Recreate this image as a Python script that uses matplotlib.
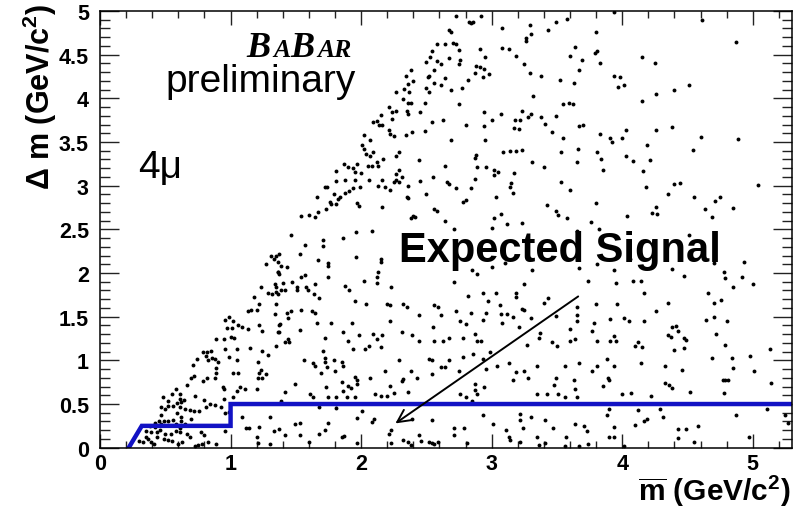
import numpy as np
import matplotlib
import matplotlib.pyplot as plt
from matplotlib.ticker import MultipleLocator, FormatStrFormatter

matplotlib.rcParams['font.family'] = 'Liberation Sans'
matplotlib.rcParams['mathtext.fontset'] = 'custom'
matplotlib.rcParams['mathtext.rm'] = 'Liberation Sans:bold'
matplotlib.rcParams['mathtext.it'] = 'Liberation Sans:bold'
matplotlib.rcParams['mathtext.bf'] = 'Liberation Sans:bold'

# 4mu candidates as (mbar, delta m) in GeV/c^2, split by region of the plane
low_m = [
    (1.37, 2.22), (1.31, 2.20), (1.33, 2.16), (1.27, 2.10), (1.36, 2.01), (1.23, 1.84), (1.35, 1.84),
    (1.29, 1.77), (1.32, 1.76), (1.36, 1.76), (1.18, 1.72), (1.22, 1.65), (1.13, 1.56), (1.16, 1.58),
    (1.20, 1.58), (1.34, 1.53), (0.99, 1.50), (0.96, 1.46), (1.02, 1.45), (0.97, 1.37), (1.01, 1.37),
    (1.06, 1.40), (1.09, 1.38), (1.13, 1.36), (1.22, 1.40), (1.24, 1.34), (1.36, 1.32), (0.89, 1.24),
    (0.95, 1.24), (1.00, 1.27), (1.03, 1.26), (0.96, 1.13), (1.05, 1.13), (1.15, 1.14), (1.24, 1.11),
    (1.35, 1.16), (0.79, 1.10), (0.82, 1.09), (0.85, 1.11), (0.81, 1.05), (0.86, 1.03), (0.88, 1.01),
    (0.99, 1.04), (0.74, 1.01), (0.83, 1.00), (0.90, 0.98), (1.05, 1.00), (1.29, 1.06), (1.21, 0.98),
    (0.71, 0.95), (0.89, 0.91), (0.89, 0.86), (1.02, 0.85), (1.06, 0.85), (1.23, 0.89), (1.22, 0.85),
    (1.27, 0.84), (1.21, 0.80), (1.24, 0.80), (0.72, 0.82), (0.70, 0.80), (0.82, 0.80), (0.79, 0.76),
    (0.88, 0.80), (0.67, 0.72), (0.94, 0.70), (0.95, 0.67), (1.07, 0.70), (1.05, 0.65), (1.11, 0.67),
    (1.20, 0.67), (0.58, 0.67), (0.55, 0.61), (0.61, 0.61), (0.73, 0.59), (0.80, 0.55), (0.95, 0.56),
    (1.02, 0.58), (0.48, 0.58), (0.52, 0.54), (0.61, 0.56), (0.64, 0.55), (0.62, 0.52), (0.59, 0.51),
    (0.56, 0.48), (0.52, 0.48), (0.61, 0.47), (0.65, 0.44), (0.47, 0.47), (0.50, 0.44), (0.84, 0.50),
    (0.88, 0.49), (0.81, 0.47), (0.93, 0.47), (0.59, 0.40), (0.69, 0.43), (0.72, 0.42), (0.76, 0.42),
    (0.96, 0.40), (0.99, 0.41), (0.62, 0.35), (0.47, 0.37), (0.45, 0.31), (0.49, 0.30), (0.52, 0.31),
    (0.56, 0.32), (0.42, 0.28), (0.58, 0.27), (0.62, 0.30), (0.65, 0.27), (0.70, 0.33), (0.38, 0.25),
    (0.42, 0.24), (0.47, 0.27), (0.61, 0.23), (0.35, 0.19), (0.39, 0.18), (0.44, 0.18), (0.46, 0.20),
    (0.50, 0.16), (0.54, 0.16), (0.58, 0.19), (0.61, 0.18), (0.67, 0.16), (0.69, 0.12), (0.77, 0.18),
    (0.80, 0.15), (0.35, 0.12), (0.37, 0.10), (0.39, 0.07), (0.41, 0.04), (0.44, 0.12), (0.49, 0.10),
    (0.52, 0.09), (0.55, 0.08), (0.30, 0.08), (0.33, 0.06), (0.60, 0.04), (0.63, 0.06), (0.73, 0.02),
    (0.75, 0.03), (0.78, 0.04), (0.83, 0.06), (0.89, 0.04), (1.09, 0.35), (1.12, 0.22), (1.14, 0.22),
    (1.22, 0.24), (1.20, 0.12), (1.21, 0.05), (1.30, 0.35), (1.30, 0.04), (1.33, 0.19), (0.96, 0.19),
]

mid_m = [
    (1.46, 2.43), (1.57, 2.32), (1.71, 2.38), (1.71, 2.31), (1.86, 2.40), (1.96, 2.47), (2.08, 2.48),
    (1.53, 2.22), (1.35, 2.20), (1.36, 2.13), (1.39, 2.08), (1.43, 2.07), (1.67, 2.15), (1.75, 2.12),
    (1.75, 2.08), (1.96, 2.18), (2.15, 2.16), (2.15, 2.13), (1.36, 2.01), (1.37, 1.99), (1.54, 1.95),
    (1.57, 1.98), (1.75, 1.96), (2.12, 1.95), (2.13, 2.01), (2.02, 1.91), (1.34, 1.87), (1.40, 1.89),
    (1.47, 1.90), (1.51, 1.84), (1.58, 1.84), (1.65, 1.87), (1.35, 1.78), (1.39, 1.80), (1.42, 1.80),
    (1.51, 1.80), (1.59, 1.80), (1.64, 1.76), (1.68, 1.71), (1.88, 1.85), (1.91, 1.80), (1.95, 1.68),
    (2.04, 1.64), (2.12, 1.89), (2.23, 1.84), (2.20, 1.65), (2.22, 1.63), (2.32, 1.65), (2.35, 1.61),
    (2.44, 1.52), (2.56, 1.63), (2.59, 1.61), (2.61, 1.52), (1.35, 1.64), (1.43, 1.54), (1.46, 1.56),
    (1.54, 1.58), (1.62, 1.56), (1.65, 1.54), (1.44, 1.48), (1.37, 1.40), (1.38, 1.42), (1.37, 1.32),
    (1.53, 1.35), (1.66, 1.43), (1.77, 1.43), (1.93, 1.43), (1.42, 1.21), (1.45, 1.21), (1.44, 1.24),
    (1.72, 1.26), (1.86, 1.33), (1.90, 1.22), (1.94, 1.13), (1.98, 1.29), (2.03, 1.13), (2.06, 1.16),
    (2.09, 1.30), (2.12, 1.24), (2.16, 1.29), (2.15, 1.15), (2.22, 1.45), (2.31, 1.33), (2.39, 1.29),
    (2.44, 1.22), (2.55, 1.38), (2.56, 1.22), (2.63, 1.22), (2.67, 1.26), (1.71, 1.11), (1.72, 1.03),
    (1.72, 0.98), (1.56, 1.00), (1.63, 0.97), (1.65, 0.93), (1.69, 0.85), (1.74, 0.92), (1.79, 1.00),
    (1.80, 0.88), (1.85, 0.98), (1.86, 0.93), (1.95, 0.81), (1.97, 0.77), (1.97, 0.73), (1.90, 0.71),
    (1.92, 0.68), (1.85, 0.75), (2.07, 0.80), (2.18, 0.88), (2.29, 1.00), (2.31, 0.76), (2.32, 0.79),
    (2.38, 0.88), (2.43, 0.80), (2.52, 1.02), (2.54, 1.00), (2.54, 0.84), (2.61, 0.92), (2.64, 0.92),
    (2.67, 1.00), (1.49, 0.73), (1.73, 0.70), (1.86, 0.65), (1.42, 0.64), (1.61, 0.62), (1.63, 0.58),
    (1.75, 0.58), (1.81, 0.58), (1.89, 0.58), (1.95, 0.58), (2.11, 0.61), (2.15, 0.59), (2.20, 0.59),
    (2.25, 0.63), (2.22, 0.71), (2.36, 0.64), (1.39, 0.54), (1.68, 0.47), (1.81, 0.45), (1.81, 0.50),
    (1.97, 0.34), (2.01, 0.42), (2.08, 0.29), (2.10, 0.33), (2.39, 0.33), (2.54, 0.32), (1.49, 0.27),
    (1.53, 0.28), (1.53, 0.15), (1.68, 0.16), (1.72, 0.20), (1.75, 0.28), (1.42, 0.15), (1.85, 0.12),
    (1.87, 0.13), (1.97, 0.05), (2.21, 0.16), (2.23, 0.20), (2.23, 0.05), (2.32, 0.09), (2.36, 0.06),
    (2.38, 0.03), (2.44, 0.14), (2.46, 0.08), (2.52, 0.06), (2.54, 0.05), (2.56, 0.04), (2.59, 0.07),
    (1.37, 0.21), (1.60, 0.06),
]

high_m = [
    (3.25, 1.87), (2.82, 1.74), (2.93, 1.77), (3.03, 1.77), (3.19, 1.77), (3.19, 1.72), (3.43, 1.71),
    (3.40, 1.66), (2.97, 1.68), (3.06, 1.63), (3.23, 1.59), (3.25, 1.58), (3.80, 1.64), (3.96, 1.64),
    (2.73, 1.56), (2.84, 1.54), (2.96, 1.54), (3.07, 1.53), (3.12, 1.53), (3.16, 1.50), (3.08, 1.43),
    (2.80, 1.42), (2.76, 1.45), (2.93, 1.46), (3.30, 1.48), (3.49, 1.51), (3.65, 1.61), (3.65, 1.52),
    (3.65, 1.45), (3.78, 1.43), (3.91, 1.47), (4.01, 1.48), (2.87, 1.30), (2.89, 1.22), (2.92, 1.22),
    (2.78, 1.26), (3.21, 1.38), (3.37, 1.31), (3.36, 1.26), (3.46, 1.21), (3.50, 1.17), (3.27, 1.18),
    (3.60, 1.36), (3.60, 1.22), (3.64, 1.24), (3.77, 1.34), (3.81, 1.22), (3.91, 1.22), (3.95, 1.22),
    (3.94, 1.28), (2.78, 1.04), (2.86, 1.07), (2.93, 1.01), (2.99, 1.09), (2.75, 0.88), (2.96, 0.90),
    (3.04, 0.93), (3.13, 0.97), (3.19, 0.87), (3.25, 0.88), (3.16, 0.77), (3.28, 0.80), (3.35, 0.93),
    (3.56, 0.93), (3.67, 0.97), (3.77, 0.88), (3.81, 0.94), (3.88, 1.01), (3.49, 0.80), (3.48, 0.72),
    (3.63, 0.77), (3.64, 0.67), (3.85, 0.71), (3.89, 0.80), (3.90, 0.77), (3.94, 0.93), (2.87, 0.73),
    (2.94, 0.70), (2.87, 0.66), (2.89, 0.61), (2.76, 0.61), (2.80, 0.58), (2.85, 0.54), (3.35, 0.61),
    (3.42, 0.61), (3.51, 0.62), (3.56, 0.58), (3.65, 0.58), (4.00, 0.61), (2.93, 0.37), (3.22, 0.39),
    (3.30, 0.35), (3.24, 0.23), (3.22, 0.32), (3.41, 0.32), (3.47, 0.23), (3.01, 0.27), (3.11, 0.20),
    (3.64, 0.27), (3.71, 0.25), (3.73, 0.19), (3.88, 0.38), (3.90, 0.44), (3.94, 0.24), (3.94, 0.12),
    (2.71, 0.23), (2.79, 0.22), (2.81, 0.05), (2.71, 0.14), (3.13, 0.12), (3.14, 0.09), (3.22, 0.06),
    (3.35, 0.12), (3.36, 0.03), (3.41, 0.05), (3.57, 0.12), (3.56, 0.02), (3.67, 0.02), (3.74, 0.04),
    (3.90, 0.12), (4.01, 0.02), (2.71, 2.50), (3.00, 2.51), (3.65, 2.48), (3.82, 2.50), (2.85, 2.04),
    (2.89, 1.99), (3.00, 2.07), (3.10, 2.11), (3.31, 2.03), (3.67, 2.06), (3.81, 2.10), (3.94, 2.03),
    (3.95, 1.89), (2.71, 1.90), (3.74, 1.91),
]

far_m = [
    (4.51, 2.43), (4.06, 2.16), (4.14, 1.91), (4.08, 1.91), (4.38, 2.05), (4.47, 1.97), (4.70, 2.11),
    (4.78, 2.01), (4.79, 1.94), (4.93, 2.13), (4.92, 1.96), (5.00, 1.87), (4.85, 1.84), (4.17, 1.77),
    (4.35, 1.66), (4.66, 1.77), (4.70, 1.66), (4.76, 1.69), (4.26, 1.57), (4.05, 1.45), (4.17, 1.45),
    (4.64, 1.46), (4.70, 1.50), (4.80, 1.45), (4.38, 1.38), (4.41, 1.39), (4.43, 1.34), (4.35, 1.29),
    (4.37, 1.27), (4.47, 1.26), (4.49, 1.23), (4.40, 1.12), (4.47, 1.14), (4.72, 1.30), (4.79, 1.18),
    (4.10, 1.16), (4.12, 1.21), (4.15, 1.15), (4.14, 0.97), (4.33, 0.93), (4.46, 0.89), (4.69, 1.03),
    (4.84, 1.03), (4.85, 0.91), (4.98, 1.05), (5.01, 0.88), (5.13, 1.13), (4.33, 0.74), (4.36, 0.72),
    (4.38, 0.68), (4.52, 0.64), (4.77, 0.77), (4.79, 0.78), (4.81, 0.77), (4.78, 0.63), (5.14, 0.74),
    (4.07, 0.63), (4.22, 0.59), (4.12, 0.43), (4.29, 0.44), (4.31, 0.35), (4.10, 0.26), (4.17, 0.31),
    (4.19, 0.33), (4.43, 0.21), (4.49, 0.21), (4.58, 0.25), (4.43, 0.11), (4.55, 0.06), (4.87, 0.37),
    (4.97, 0.12), (5.11, 0.44), (5.25, 0.37), (5.27, 0.28),
]

edge_upper = [
    (2.38, 4.32), (2.34, 4.25), (2.40, 4.20), (2.36, 4.16), (2.33, 4.11), (2.27, 4.07), (2.37, 4.07),
    (2.32, 3.99), (2.36, 3.95), (2.38, 3.95), (2.21, 3.90), (2.24, 3.84), (2.27, 3.85), (2.35, 3.86),
    (2.36, 3.82), (2.15, 3.81), (2.12, 3.74), (2.09, 3.73), (2.14, 3.70), (2.16, 3.69), (2.24, 3.76),
    (2.21, 3.64), (2.22, 3.59), (2.25, 3.57), (2.34, 3.58), (2.39, 3.61), (2.02, 3.58), (2.01, 3.46),
    (2.07, 3.52), (2.02, 3.42), (2.04, 3.36), (2.09, 3.39), (2.07, 3.34), (2.17, 3.31), (2.12, 3.27),
    (2.29, 3.39), (2.27, 3.34), (1.87, 3.25), (1.90, 3.21), (1.94, 3.20), (1.95, 3.16), (1.97, 3.25),
    (1.81, 3.17), (2.00, 3.15), (2.05, 3.22), (2.08, 3.23), (2.13, 3.23), (2.29, 3.18), (2.27, 3.13),
    (1.81, 3.05), (1.88, 3.06), (1.95, 3.06), (2.06, 3.06), (1.99, 2.99), (1.94, 2.97), (1.91, 2.94),
    (2.13, 3.00), (2.18, 2.99), (2.22, 2.95), (2.16, 3.06), (2.27, 3.07), (2.25, 3.04), (2.29, 3.04),
    (2.31, 3.10), (2.36, 3.00), (1.72, 2.99), (1.74, 2.99), (1.79, 2.90), (1.82, 2.85), (1.84, 2.87),
    (1.88, 2.92), (1.98, 2.77), (1.97, 2.80), (1.66, 2.87), (1.76, 2.81), (1.77, 2.79), (1.81, 2.79),
    (1.73, 2.73), (1.67, 2.70), (1.65, 2.64), (1.54, 2.65), (1.60, 2.66), (2.16, 2.76), (2.35, 2.87),
    (2.36, 2.86), (2.38, 2.63), (2.40, 2.65),
]

mid_upper = [
    (2.73, 4.94), (2.83, 4.87), (2.84, 4.86), (2.86, 4.87), (2.92, 4.94), (3.08, 4.81), (3.29, 4.84),
    (3.30, 4.74), (3.26, 4.69), (3.26, 4.66), (3.43, 4.78), (3.49, 4.87), (3.58, 4.91), (3.80, 4.76),
    (2.67, 4.78), (2.69, 4.76), (2.58, 4.62), (2.64, 4.62), (2.70, 4.63), (2.73, 4.62), (2.75, 4.55),
    (2.54, 4.54), (2.53, 4.47), (2.50, 4.42), (2.58, 4.43), (2.61, 4.39), (2.67, 4.46), (2.76, 4.44),
    (2.75, 4.39), (2.91, 4.57), (2.95, 4.47), (2.88, 4.37), (2.91, 4.36), (2.94, 4.34), (2.87, 4.29),
    (2.93, 4.24), (2.98, 4.28), (2.82, 4.21), (2.56, 4.32), (2.52, 4.26), (2.51, 4.24), (2.64, 4.23),
    (2.61, 4.15), (2.56, 4.17), (2.50, 4.12), (2.52, 4.07), (2.69, 4.10), (2.77, 4.12), (3.08, 4.58),
    (3.13, 4.56), (3.19, 4.49), (3.25, 4.39), (3.29, 4.29), (3.38, 4.25), (3.52, 4.21), (3.63, 4.18),
    (3.64, 4.59), (3.60, 4.48), (3.69, 4.44), (3.67, 4.32), (3.79, 4.52), (3.81, 4.54), (3.83, 4.40),
    (2.49, 3.95), (2.45, 3.84), (2.54, 3.73), (2.75, 3.94), (2.63, 3.75), (2.49, 3.63), (2.80, 3.69),
    (2.94, 3.84), (3.00, 3.75), (2.94, 3.68), (2.95, 3.52), (2.69, 3.52), (3.07, 3.82), (3.18, 3.75),
    (3.23, 3.85), (3.22, 3.75), (3.17, 3.66), (3.21, 3.65), (3.28, 3.79), (3.30, 3.82), (3.32, 4.03),
    (3.38, 3.79), (3.41, 3.71), (3.46, 3.61), (3.49, 3.80), (3.55, 3.94), (3.59, 3.95), (3.62, 3.94),
    (3.55, 3.55), (3.67, 3.68), (3.70, 3.69), (3.83, 3.59), (2.44, 3.29), (2.45, 3.05), (2.55, 3.10),
    (2.50, 2.90), (2.64, 3.22), (2.66, 3.04), (2.67, 3.02), (2.73, 2.97), (2.87, 3.32), (2.88, 3.35),
    (2.89, 3.21), (2.87, 3.08), (2.84, 2.97), (2.80, 2.84), (2.78, 2.81), (2.96, 3.21), (3.02, 3.18),
    (3.05, 3.16), (3.02, 3.12), (3.03, 2.87), (3.09, 3.38), (3.14, 3.40), (3.19, 3.40), (3.23, 3.41),
    (3.17, 3.15), (3.15, 3.03), (3.14, 2.98), (3.16, 2.92), (3.31, 3.27), (3.40, 3.21), (3.53, 3.38),
    (3.66, 3.42), (3.65, 3.27), (3.81, 3.38), (3.84, 3.31), (3.85, 3.18), (3.53, 3.04), (3.60, 2.95),
    (3.42, 2.78), (3.49, 2.71), (3.51, 2.66), (3.58, 2.63), (3.80, 2.80), (3.76, 2.58), (2.56, 2.73),
    (2.58, 2.71), (2.64, 2.60), (2.41, 2.64), (3.02, 2.63), (3.07, 2.68), (3.12, 2.56), (3.23, 2.57),
]

far_upper = [
    (3.94, 4.99), (4.61, 4.90), (4.87, 4.64), (4.15, 4.47), (4.25, 4.41), (3.94, 4.25), (3.98, 4.24),
    (3.97, 4.13), (4.01, 4.15), (4.26, 4.05), (4.40, 4.10), (4.51, 4.15), (4.15, 3.97), (3.91, 3.55),
    (3.92, 3.50), (4.00, 3.55), (4.03, 3.64), (4.26, 3.64), (4.38, 3.67), (4.60, 3.56), (4.89, 3.53),
    (4.19, 3.46), (4.54, 3.41), (4.03, 3.34), (4.08, 3.28), (4.21, 3.29), (4.16, 3.17), (4.18, 2.98),
    (4.40, 3.02), (4.44, 3.03), (4.35, 2.91), (4.55, 2.87), (4.71, 2.83), (4.75, 2.87), (5.04, 3.01),
    (4.26, 2.76), (4.23, 2.69), (4.27, 2.68), (4.63, 2.73), (4.69, 2.64), (4.85, 2.74), (4.04, 2.65),
]

# signal region boundary
cut_m = [0.22, 0.32, 1.0, 1.0, 5.3]
cut_dm = [0.0, 0.25, 0.25, 0.5, 0.5]

ev = np.array(low_m + mid_m + high_m + far_m + edge_upper + mid_upper + far_upper)

fig = plt.figure(figsize=(8.02, 5.10), dpi=100)
ax = fig.add_axes([0.1247, 0.1202, 0.8628, 0.8563])

ax.plot(ev[:, 0], ev[:, 1], 'o', color='k', ms=2.8, mew=0)
ax.plot(cut_m, cut_dm, color='#1212c4', lw=3.2, solid_joinstyle='miter')

ax.set_xlim(0, 5.3)
ax.set_ylim(0, 5)
ax.xaxis.set_major_locator(MultipleLocator(1))
ax.xaxis.set_minor_locator(MultipleLocator(0.2))
ax.yaxis.set_major_locator(MultipleLocator(0.5))
ax.yaxis.set_minor_locator(MultipleLocator(0.1))
ax.yaxis.set_major_formatter(FormatStrFormatter('%g'))
ax.tick_params(which='both', direction='in', top=True, right=True, width=1, color='#222222')
ax.tick_params(axis='x', which='major', length=10, pad=4)
ax.tick_params(axis='x', which='minor', length=5)
ax.tick_params(axis='y', which='major', length=14, pad=8)
ax.tick_params(axis='y', which='minor', length=7.5)
for lab in ax.get_xticklabels() + ax.get_yticklabels():
    lab.set_fontsize(15.5)
    lab.set_fontweight('bold')
for s in ax.spines.values():
    s.set_linewidth(1.1)

fig.text(40 / 802, 1 - 4 / 510, r'$\Delta$ m (GeV/c$^{2}$)', rotation=90,
         ha='center', va='top', fontsize=22, fontweight='bold')
fig.text(791 / 802, 1 - 491 / 510, r'$\overline{\mathrm{m}}$ (GeV/c$^{2}$)',
         ha='right', va='center', fontsize=21.5, fontweight='bold')

# BaBar logo in small caps
logo = dict(family='Liberation Serif', style='italic', weight='bold', va='baseline')
fig.text(246 / 802, 1 - 57 / 510, 'B', fontsize=26, **logo)
fig.text(273 / 802, 1 - 57 / 510, 'A', fontsize=18.5, **logo)
fig.text(290 / 802, 1 - 57 / 510, 'B', fontsize=26, **logo)
fig.text(317 / 802, 1 - 57 / 510, 'AR', fontsize=18.5, **logo)
fig.text(356 / 802, 1 - 92 / 510, 'preliminary', ha='right', va='baseline', fontsize=28)
fig.text(138 / 802, 1 - 178 / 510, '4\u03bc', ha='left', va='baseline', fontsize=28)

ax.text(2.29, 2.14, 'Expected Signal', fontsize=30, fontweight='bold', ha='left', va='baseline')
ax.annotate('', xy=(2.245, 0.26), xytext=(3.68, 1.75),
            arrowprops=dict(arrowstyle='->,head_length=0.9,head_width=0.45', lw=1.4, color='k'))

fig.savefig('out.png', dpi=100)
